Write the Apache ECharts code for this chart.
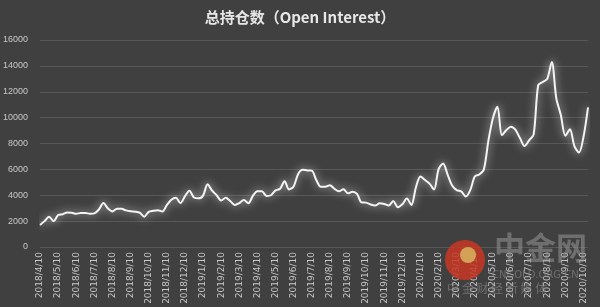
<!DOCTYPE html>
<html>
<head>
<meta charset="utf-8">
<script src="https://cdn.jsdelivr.net/npm/echarts@6/dist/echarts.min.js"></script>
<style>
html,body{margin:0;padding:0;background:#404040;}
#c{width:600px;height:307px;}
</style>
</head>
<body>
<div id="c"></div>
<script>
// Monthly tick labels
var monthLabels = [
  '2018/4/10','2018/5/10','2018/6/10','2018/7/10','2018/8/10','2018/9/10','2018/10/10','2018/11/10','2018/12/10',
  '2019/1/10','2019/2/10','2019/3/10','2019/4/10','2019/5/10','2019/6/10','2019/7/10','2019/8/10','2019/9/10',
  '2019/10/10','2019/11/10','2019/12/10','2020/1/10','2020/2/10','2020/3/10','2020/4/10','2020/5/10','2020/6/10',
  '2020/7/10','2020/8/10','2020/9/10','2020/10/10'
];
// Roughly weekly open interest values (4 per month)
var openInterest = [
  1700,2000,2340,2000,2470,2530,2670,2650,2570,2630,2630,2570,2600,2900,3400,2970,
  2750,2960,2950,2830,2760,2730,2650,2340,2720,2800,2850,2750,3230,3650,3800,3400,
  3920,4350,3820,3760,3970,4850,4350,4000,3600,3800,3550,3250,3400,3630,3380,3950,
  4300,4300,3950,4000,4380,4500,5080,4450,4680,5650,5980,5920,5900,5180,4650,4650,
  4780,4500,4300,4470,4150,4270,4100,3450,3430,3280,3200,3380,3330,3200,3550,3080,
  3300,3750,3250,4600,5450,5180,4900,4450,6000,6450,5600,4750,4400,4300,3900,4400,
  5450,5600,6000,8200,9950,10850,8650,9050,9300,9050,8400,7800,8250,8700,12500,12750,
  13000,14300,11500,10200,8600,9100,7800,7300,8500,10800
];
var yTicks = {min:0, max:16000, interval:2000};

var categories = [];
for (var i = 0; i < openInterest.length; i++) {
  var m = Math.floor(i / 4);
  categories.push((i % 4 === 0 && m < monthLabels.length) ? monthLabels[m] : ('w' + i));
}

var chart = echarts.init(document.getElementById('c'));
chart.setOption({
  backgroundColor: '#404040',
  animation: false,
  title: {
    text: '总持仓数（Open Interest）',
    left: 'center', top: 5,
    textStyle: {color: '#e6e6e6', fontSize: 15, fontWeight: 'bold', fontFamily: 'Noto Sans CJK SC'}
  },
  grid: {left: 39, right: 12, top: 40, bottom: 60},
  xAxis: {
    type: 'category',
    data: categories,
    boundaryGap: false,
    axisLine: {show: false},
    axisTick: {show: false},
    axisLabel: {
      rotate: 90,
      color: '#c8c8c8',
      fontSize: 9,
      margin: 5,
      fontFamily: 'DejaVu Sans',
      interval: function (idx) { return idx % 4 === 0 && idx / 4 < monthLabels.length; },
      formatter: function (v) { return v.charAt(0) === 'w' ? '' : v; }
    },
    splitLine: {show: false}
  },
  yAxis: {
    type: 'value',
    min: yTicks.min, max: yTicks.max, interval: yTicks.interval,
    axisLine: {show: false},
    axisTick: {show: false},
    axisLabel: {color: '#c8c8c8', fontSize: 9, margin: 12, fontFamily: 'Liberation Sans',
      formatter: function (v) { return String(v); }},
    splitLine: {lineStyle: {color: '#585858', width: 1}}
  },
  series: [{
    type: 'line',
    data: openInterest,
    smooth: 0.3,
    symbol: 'none',
    lineStyle: {color: '#f4f4f4', width: 2, shadowBlur: 8, shadowColor: 'rgba(255,255,255,0.8)'}
  }],
  graphic: [
    {type: 'circle', shape: {cx: 465, cy: 260, r: 20}, style: {fill: 'rgba(200,55,35,0.85)'}, z: 10},
    {type: 'circle', shape: {cx: 468, cy: 255, r: 8}, style: {fill: 'rgba(215,180,95,0.85)'}, z: 11},
    {type: 'text', left: 494, top: 232, style: {text: '中金网', fill: 'rgba(150,150,150,0.55)', font: 'bold 31px "Noto Sans CJK SC"'}, z: 11},
    {type: 'text', left: 492, top: 270, style: {text: 'CNGOLD.ORG.CN', fill: 'rgba(150,150,150,0.55)', font: '10px "DejaVu Sans"'}, z: 11},
    {type: 'text', left: 447, top: 282, style: {text: '中 金 财 经 新 媒 体', fill: 'rgba(150,150,150,0.55)', font: '12px "Noto Sans CJK SC"'}, z: 11}
  ]
});
</script>
</body>
</html>
